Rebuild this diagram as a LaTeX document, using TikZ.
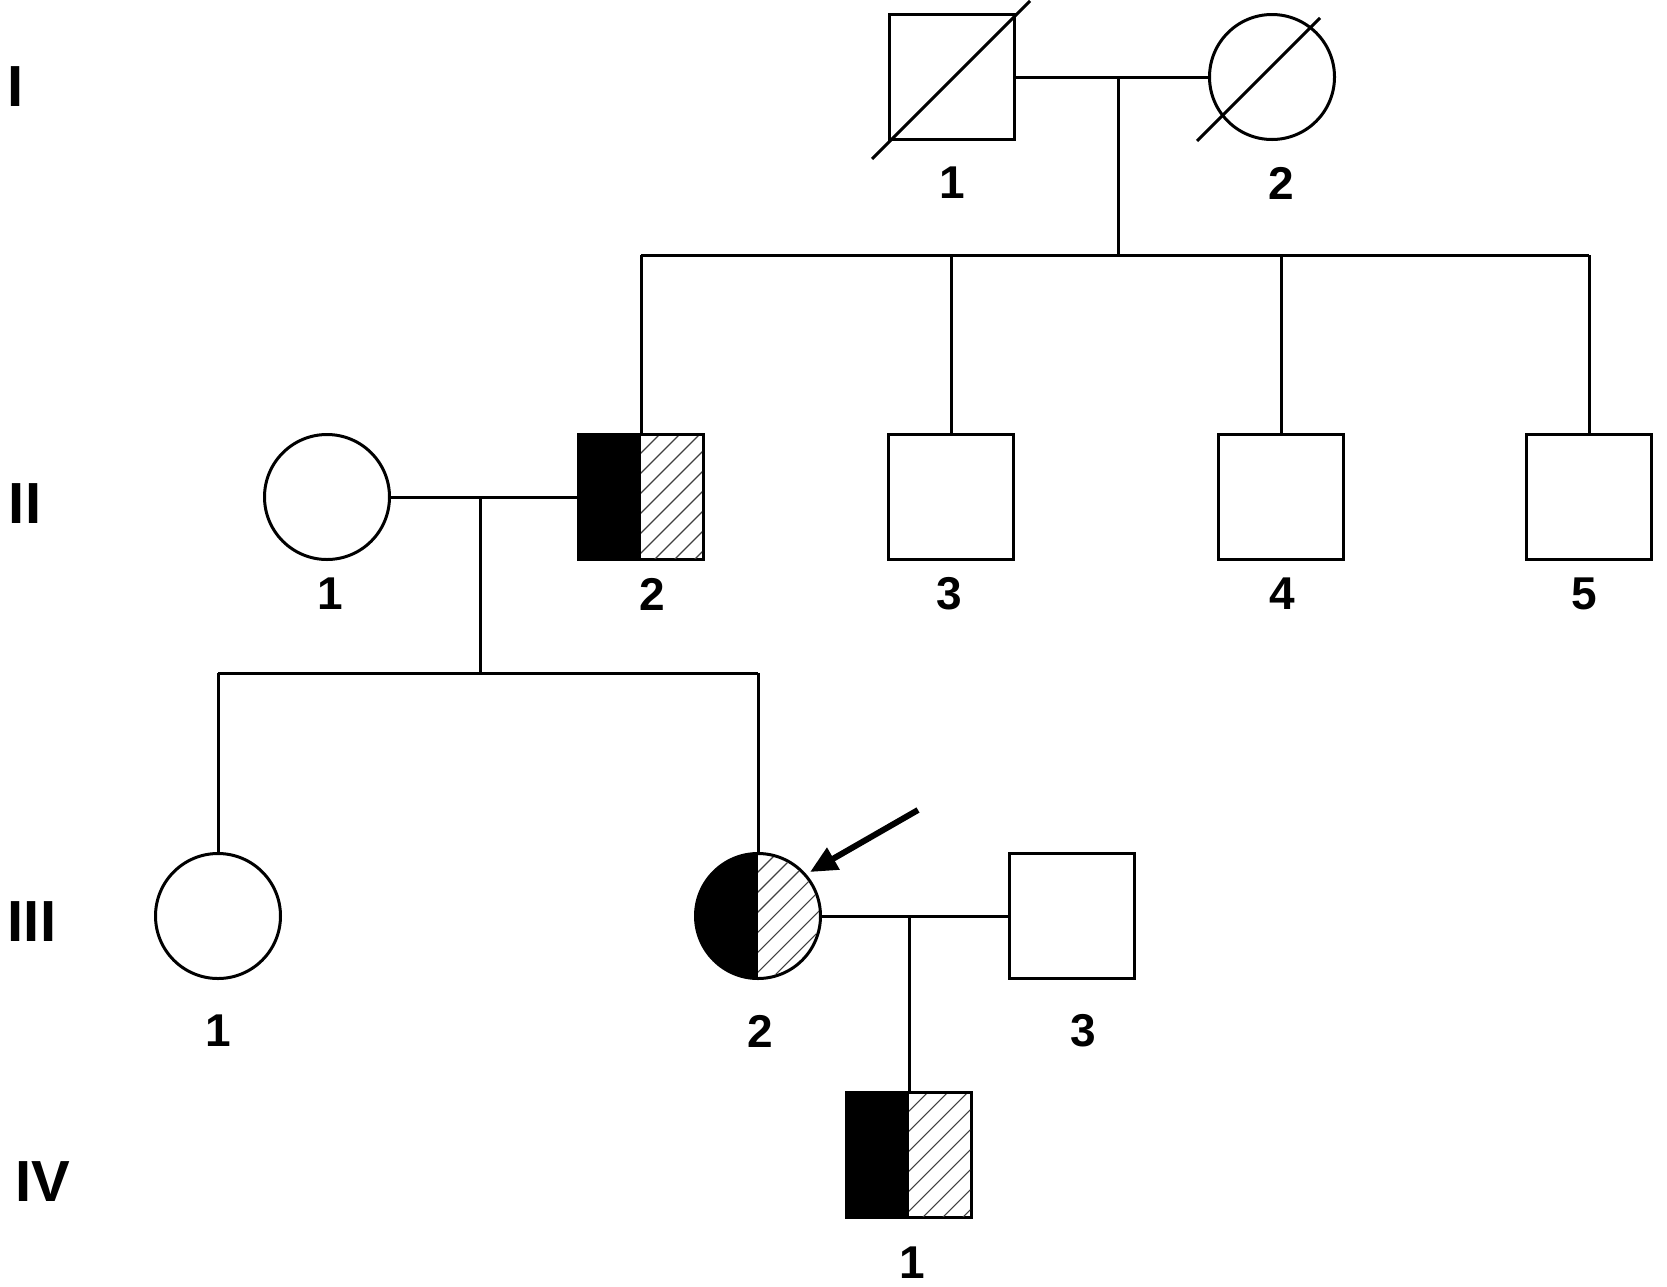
\documentclass[tikz,border=0pt]{standalone}
\usepackage{fontspec}
\setmainfont{Liberation Sans}
\usetikzlibrary{arrows.meta}
\tikzset{male/.style={draw,rectangle,minimum size=125pt,inner sep=0pt},
  female/.style={draw,circle,minimum size=125pt,inner sep=0pt},
  num/.style={font=\fontsize{46}{48}\selectfont\bfseries,inner sep=0pt},
  gen/.style={font=\fontsize{58}{60}\selectfont\bfseries,inner sep=0pt},
  hatch/.style={line width=1.1pt,black!75}}

\begin{document}
\begin{tikzpicture}[x=1pt,y=-1pt,line width=3pt]
       \useasboundingbox (0,0) rectangle (1667,1286);
       % generation labels
       \node[gen] (gI)   at (16,87)   {I};
       \node[gen] (gII)  at (25,504)  {II};
       \node[gen] (gIII) at (32,922)  {III};
       \node[gen] (gIV)  at (43,1182) {IV};
       % generation I
       \begin{scope}
        \node[male]   (I1) at (952,77)  {};
        \node[female] (I2) at (1272,77) {};
        \draw (I1.center) ++(-80,82) -- ++(158,-158);
        \draw (I2.center) ++(-75,64) -- ++(123,-123);
        \node[num] (nI1) at (952,183)  {1};
        \node[num] (nI2) at (1281,183) {2};
        \draw (I1) -- (I2);
        \coordinate (sibI) at (1118,255);
        \draw (sibI |- I1.center) -- (sibI);
       \end{scope}
       % generation II
       \begin{scope}
        \node[female] (II1) at (327,497)  {};
        \node[male]   (II2) at (641,497)  {};
        \node[male]   (II3) at (951,497)  {};
        \node[male]   (II4) at (1281,497) {};
        \node[male]   (II5) at (1589,497) {};
        \node[num] (nII1) at (330,594)  {1};
        \node[num] (nII2) at (652,594)  {2};
        \node[num] (nII3) at (949,594)  {3};
        \node[num] (nII4) at (1282,594) {4};
        \node[num] (nII5) at (1584,594) {5};
        \draw (II2.north |- sibI) -- (II5.north |- sibI);
        \foreach \n in {II2,II3,II4,II5}
          \draw (\n.north) -- (\n.north |- sibI);
        \draw (II1) -- (II2);
        \coordinate (sibII) at (480,673);
        \draw (sibII |- II1.center) -- (sibII);
       \end{scope}
       % generation III
       \begin{scope}
        \node[female] (III1) at (218,916)  {};
        \node[female] (III2) at (758,916)  {};
        \node[male]   (III3) at (1072,916) {};
        \node[num] (nIII1) at (218,1031)  {1};
        \node[num] (nIII2) at (760,1031)  {2};
        \node[num] (nIII3) at (1083,1031) {3};
        \draw (III1.north |- sibII) -- (III2.north |- sibII);
        \foreach \n in {III1,III2}
          \draw (\n.north) -- (\n.north |- sibII);
        \draw (III2) -- (III3);
        \coordinate (arrowtail) at (918,810);
        \coordinate (arrowtip)  at (810,872);
        \draw[-{Triangle[length=27pt,width=24pt]},line width=6pt] (arrowtail) -- (arrowtip);
       \end{scope}
       % generation IV
       \begin{scope}
        \node[male] (IV1) at (909,1155) {};
        \node[num] (nIV1) at (912,1263) {1};
        \draw (IV1.north) -- (IV1.north |- III2.center);
       \end{scope}
       % half filled, half hatched
       \foreach \n in {II2,IV1} {
        \begin{scope}[shift={(\n.center)}]
         \fill (-62.5,-62.5) rectangle (0,62.5);
         \clip (0,-61) rectangle (61,61);
         \foreach \d in {-128,-108,...,72}
           \draw[hatch] (\d,64) -- ++(128,-128);
        \end{scope}
       }
       \begin{scope}[shift={(III2.center)}]
        \clip (0,0) circle (62.5);
        \fill (-64,-64) rectangle (0,64);
        \clip (0,-64) rectangle (64,64);
        \clip (0,0) circle (61);
        \foreach \d in {-128,-108,...,72}
          \draw[hatch] (\d,64) -- ++(128,-128);
       \end{scope}
      \end{tikzpicture}
\end{document}
